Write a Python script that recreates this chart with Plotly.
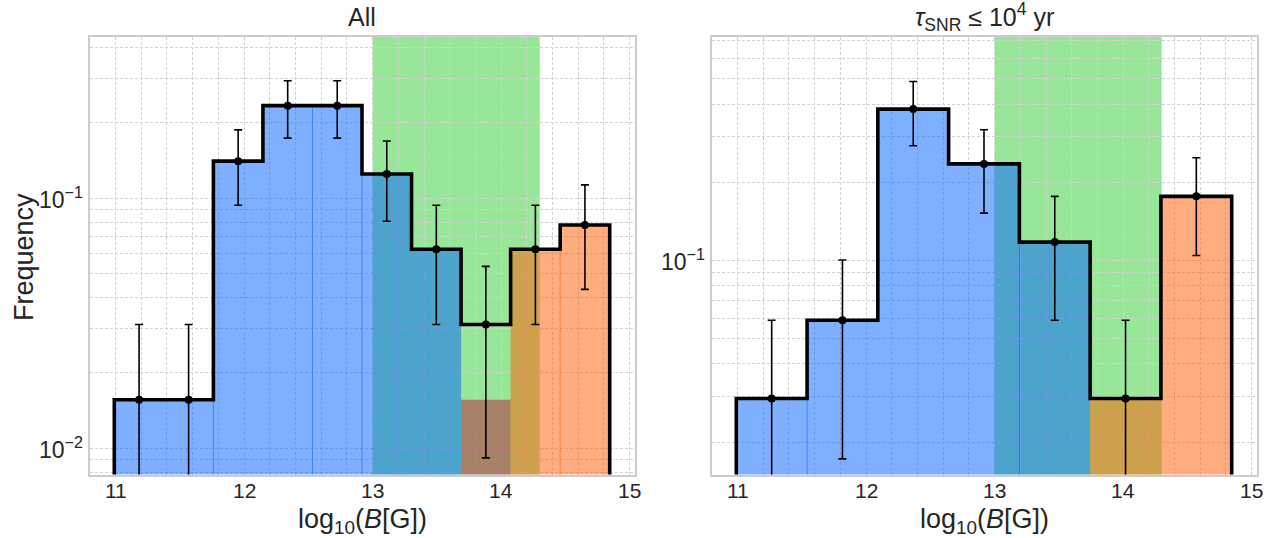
import numpy as np
import plotly.graph_objects as go

# ---------------- data ----------------
hist_lo, hist_hi = 10.99, 14.845          # histogram bin range, log10(B [G])
span = [13.0, 14.3]                       # shaded (green) interval

left_total = 64
left_counts = [1, 1, 9, 15, 15, 8, 4, 2, 4, 5]
left_blue = [1, 1, 9, 15, 15, 8, 4, 0, 0, 0]
left_red = [0, 0, 0, 0, 0, 0, 0, 1, 0, 0]
left_orange = [0, 0, 0, 0, 0, 0, 0, 0, 4, 5]
left_blue_seams = [2, 4, 5]
left_orange_seams = [9]
left_y_labels = [-2, -1]

right_total = 34
right_counts = [1, 2, 13, 8, 4, 1, 6]
right_blue = [1, 2, 13, 8, 4, 0, 0]
right_red = [0, 0, 0, 0, 0, 0, 0]
right_orange = [0, 0, 0, 0, 0, 1, 6]
right_blue_seams = [1, 4]
right_orange_seams = []
right_y_labels = [-1]

panel_titles = ["All", "<i>τ</i><sub>SNR</sub> ≤ 10<sup>4</sup> yr"]
x_label = "log<sub>10</sub>(<i>B</i>[G])"
y_label = "Frequency"
x_tick_labels = [11, 12, 13, 14, 15]

# ---------------- styling ----------------
W, H = 1280, 538
FLOOR = 1e-6
BLUE = "rgba(0,97,255,0.5)"
RED = "rgba(180,28,56,0.5)"
ORANGE = "rgba(255,89,0,0.5)"
GREEN = "rgba(50,205,50,0.5)"
TXT = "#262626"
FONT = "Liberation Sans, Arial, sans-serif"

fig = go.Figure()


def outline(edges, h):
    xs, ys = [edges[0]], [FLOOR]
    for i, v in enumerate(h):
        xs += [edges[i], edges[i + 1]]
        ys += [v, v]
    xs.append(edges[-1])
    ys.append(FLOOR)
    return xs, ys


def fill_runs(edges, h):
    xs, ys = [], []
    i = 0
    n = len(h)
    while i < n:
        if h[i] > 0:
            j = i
            while j < n and h[j] > 0:
                j += 1
            ox, oy = outline(edges[i:j + 1], h[i:j])
            xs += ox + [None]
            ys += oy + [None]
            i = j
        else:
            i += 1
    return xs, ys


def add_panel(counts, total, cats, seams, xa, ya):
    nb = len(counts)
    edges = np.linspace(hist_lo, hist_hi, nb + 1)
    centers = 0.5 * (edges[:-1] + edges[1:])
    freq = np.array(counts) / total
    err = np.sqrt(np.array(counts)) / total
    for vals, col in cats:
        h = list(np.array(vals) / total)
        if max(h) <= 0:
            continue
        fx, fy = fill_runs(list(edges), h)
        fig.add_trace(go.Scatter(x=fx, y=fy, fill="toself", fillcolor=col,
                                 mode="none", showlegend=False, hoverinfo="skip",
                                 xaxis=xa, yaxis=ya))
    for vals, col, ks in seams:
        for k in ks:
            top = min(vals[k - 1], vals[k]) / total
            fig.add_trace(go.Scatter(x=[edges[k], edges[k]], y=[FLOOR, top],
                                     mode="lines", line=dict(color=col, width=1),
                                     showlegend=False, hoverinfo="skip",
                                     xaxis=xa, yaxis=ya))
    sx, sy = outline(list(edges), list(freq))
    fig.add_trace(go.Scatter(x=sx, y=sy, mode="lines",
                             line=dict(color="black", width=3.6),
                             showlegend=False, hoverinfo="skip",
                             xaxis=xa, yaxis=ya))
    fig.add_trace(go.Scatter(x=centers, y=freq, mode="markers",
                             marker=dict(color="black", size=8),
                             error_y=dict(type="data", array=err, color="black",
                                          thickness=1.6, width=4),
                             showlegend=False, hoverinfo="skip",
                             xaxis=xa, yaxis=ya))
    fig.add_shape(type="rect", xref=xa, yref=ya + " domain",
                  x0=span[0], x1=span[1], y0=0, y1=1,
                  fillcolor=GREEN, line=dict(width=0), layer="below")


add_panel(left_counts, left_total,
          [(left_blue, BLUE), (left_red, RED), (left_orange, ORANGE)],
          [(left_blue, "rgba(0,97,255,0.55)", left_blue_seams),
           (left_orange, "rgba(255,89,0,0.55)", left_orange_seams)],
          "x", "y")
add_panel(right_counts, right_total,
          [(right_blue, BLUE), (right_red, RED), (right_orange, ORANGE)],
          [(right_blue, "rgba(0,97,255,0.55)", right_blue_seams),
           (right_orange, "rgba(255,89,0,0.55)", right_orange_seams)],
          "x2", "y2")

# ---------------- axes ----------------
px_l = [(89.5, 634.5), (711.5, 1256.5)]
y_dom = [1 - 474.5 / H, 1 - 36.5 / H]
xgrid = [round(v, 1) for v in np.arange(10.8, 15.05, 0.2)]


def ygrid(kmin, kmax):
    return [m * 10.0 ** k for k in range(kmin, kmax + 1) for m in range(1, 10)]


common_x = dict(range=[10.797, 15.038], tickmode="array", tickvals=xgrid,
                showticklabels=False,
                showgrid=True, gridcolor="#d2d2d2", gridwidth=0.8, griddash="3px,2px",
                zeroline=False, showline=True, mirror=True, linecolor="#cccccc",
                linewidth=2, ticks="")
common_y = dict(type="log", tickmode="array", showgrid=True, gridcolor="#d2d2d2",
                gridwidth=0.8, griddash="3px,2px", zeroline=False, showline=True,
                mirror=True, linecolor="#cccccc", linewidth=2, ticks="",
                showticklabels=False, domain=y_dom)

fig.update_layout(
    width=W, height=H, margin=dict(l=0, r=0, t=0, b=0),
    paper_bgcolor="white", plot_bgcolor="white",
    xaxis=dict(domain=[px_l[0][0] / W, px_l[0][1] / W], anchor="y", **common_x),
    xaxis2=dict(domain=[px_l[1][0] / W, px_l[1][1] / W], anchor="y2", **common_x),
    yaxis=dict(anchor="x", range=[-2.105, -0.3535], tickvals=ygrid(-3, -1), **common_y),
    yaxis2=dict(anchor="x2", range=[-1.824, -0.138], tickvals=ygrid(-2, 0), **common_y),
    font=dict(family=FONT, color=TXT),
)

TICKFONT = dict(size=21, color=TXT, family=FONT)
YTICKFONT = dict(size=23, color=TXT, family=FONT)
# tick labels
for i, (xa, ya, ylabs) in enumerate([("x", "y", left_y_labels), ("x2", "y2", right_y_labels)]):
    for v in x_tick_labels:
        fig.add_annotation(text=str(v), x=v, y=1 - 490 / H, xref=xa, yref="paper",
                           showarrow=False, xanchor="center", yanchor="middle",
                           font=TICKFONT)
    for k in ylabs:
        fig.add_annotation(text="10<sup>−%d</sup>" % (-k), x=(px_l[i][0] - 5) / W, y=k,
                           xref="paper", yref=ya, showarrow=False,
                           xanchor="right", yanchor="middle", font=YTICKFONT)

# titles and axis labels
for i, t in enumerate(panel_titles):
    cx = (px_l[i][0] + px_l[i][1]) / 2 / W
    fig.add_annotation(text=t, x=cx, y=1 - 17 / H, xref="paper", yref="paper",
                       showarrow=False, xanchor="center", yanchor="middle",
                       font=dict(size=25, color=TXT, family=FONT))
    fig.add_annotation(text=x_label, x=cx, y=1 - 521 / H, xref="paper", yref="paper",
                       showarrow=False, xanchor="center", yanchor="middle",
                       font=dict(size=27, color=TXT, family=FONT))
fig.add_annotation(text=y_label, x=24 / W, y=1 - 257 / H, xref="paper", yref="paper",
                   showarrow=False, textangle=-90, xanchor="center", yanchor="middle",
                   font=dict(size=27, color=TXT, family=FONT))

fig.write_html("out.html")
